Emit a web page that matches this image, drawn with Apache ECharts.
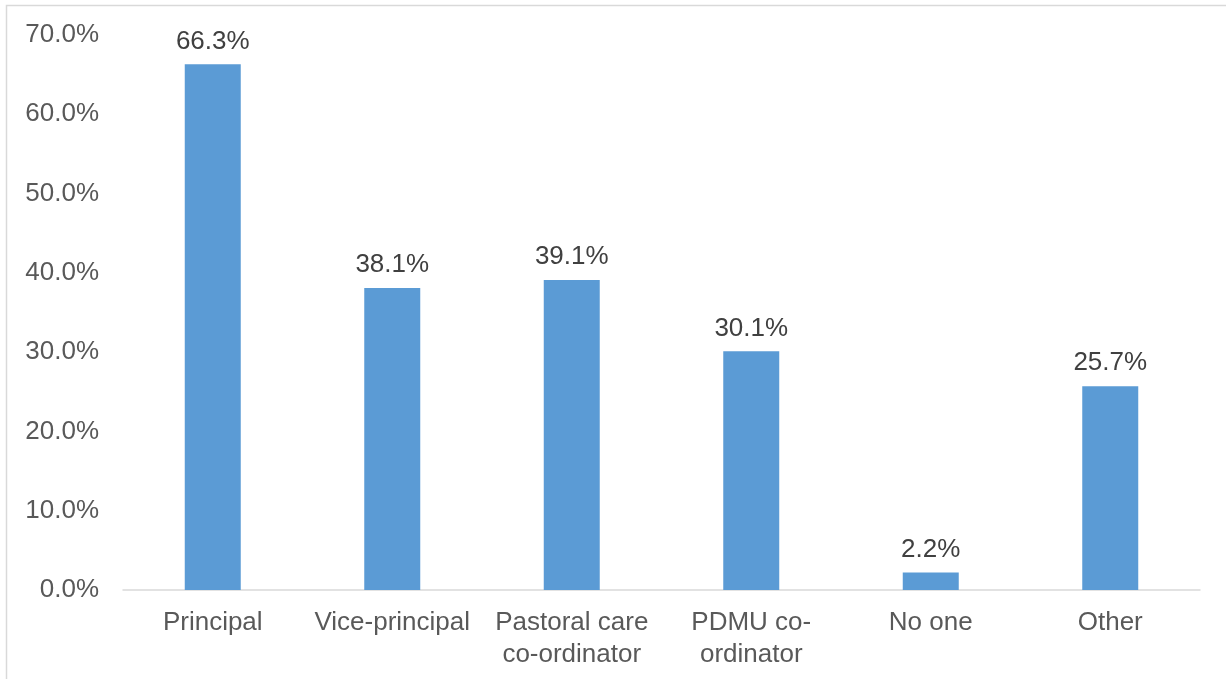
<!DOCTYPE html>
<html>
<head>
<meta charset="utf-8">
<script src="https://cdn.jsdelivr.net/npm/echarts@6/dist/echarts.min.js"></script>
<style>
  html, body { margin: 0; padding: 0; background: #ffffff; }
  #chart { width: 1226px; height: 679px; }
</style>
</head>
<body>
<div id="chart"></div>
<script>
// who is responsible, share of respondents (%)
const categories = [
  "Principal",
  "Vice-principal",
  "Pastoral care\nco-ordinator",
  "PDMU co-\nordinator",
  "No one",
  "Other",
];
const shares = [66.3, 38.1, 39.1, 30.1, 2.2, 25.7];
const yTicks = [0, 10, 20, 30, 40, 50, 60, 70];

const chart = echarts.init(document.getElementById("chart"));
chart.setOption({
  animation: false,
  textStyle: { fontFamily: "Liberation Sans, Arial, sans-serif" },
  graphic: [
    {
      type: "rect",
      silent: true,
      shape: { x: 6.5, y: 5.5, width: 1400, height: 900 },
      style: { fill: "none", stroke: "#d9d9d9", lineWidth: 1.5 },
    },
  ],
  grid: { left: 123, right: 26, top: 35, bottom: 89 },
  xAxis: {
    type: "category",
    data: categories,
    axisLine: { lineStyle: { color: "#d9d9d9", width: 1.5 } },
    axisTick: { show: false },
    axisLabel: {
      color: "#595959",
      fontSize: 26,
      lineHeight: 32,
      margin: 17,
      interval: 0,
    },
  },
  yAxis: {
    type: "value",
    min: yTicks[0],
    max: yTicks[yTicks.length - 1],
    interval: 10,
    splitLine: { show: false },
    axisLine: { show: false },
    axisTick: { show: false },
    axisLabel: {
      color: "#595959",
      fontSize: 26,
      margin: 24,
      formatter: (v) => v.toFixed(1) + "%",
    },
  },
  series: [
    {
      type: "bar",
      data: shares,
      barWidth: 56,
      itemStyle: { color: "#5b9bd5" },
      label: {
        show: true,
        position: "top",
        distance: 10,
        color: "#404040",
        fontSize: 26,
        formatter: (p) => p.value.toFixed(1) + "%",
      },
    },
  ],
});
</script>
</body>
</html>
